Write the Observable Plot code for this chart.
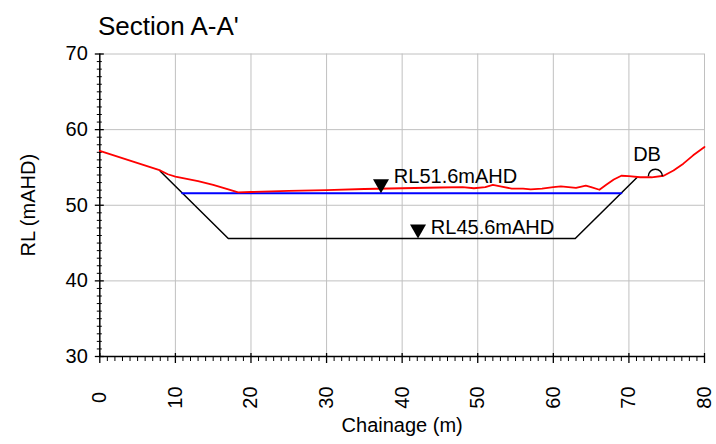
<!DOCTYPE html>
<html>
<head>
<meta charset="utf-8">
<script src="https://cdn.jsdelivr.net/npm/d3@7"></script>
<script src="https://cdn.jsdelivr.net/npm/@observablehq/plot@0.6"></script>
<style>
  body { margin: 0; background: #fff; overflow: hidden; font-family: "Liberation Sans", Arial, sans-serif; }
  #title { height: 29px; padding-top: 11px; padding-left: 98px; font-size: 26px; line-height: 30px; color: #000; }
  #chart svg { display: block; }
</style>
</head>
<body>
<div id="title">Section A-A'</div>
<div id="chart"></div>
<script>
// ---- data ----
const chainage = [0,4,8,9,10,12,13,15,17,18.3,20,25,30,35,40,45,48,49.5,51,52,53,54.5,56,57,58.5,60,61,62,63,64.3,65,66.1,67,68,69,70,71.5,73,74.6,75.9,77.2,78.5,80];
const groundRL = [57.2,55.9,54.6,54.1,53.8,53.4,53.2,52.7,52.1,51.7,51.75,51.9,52.0,52.15,52.25,52.35,52.4,52.25,52.4,52.7,52.5,52.2,52.2,52.1,52.2,52.4,52.5,52.4,52.3,52.6,52.4,52.05,52.7,53.4,53.9,53.85,53.7,53.7,53.9,54.6,55.5,56.6,57.7];

const designChainage = [8, 17, 62.9, 71.1];
const designRL = [54.5, 45.6, 45.6, 53.7];

const waterChainage = [10.9, 69.0];
const waterRL = [51.6, 51.6];

const markerChainage = [37.2, 42.1];
const markerRL = [51.6, 45.6];
const labelText = ["RL51.6mAHD", "RL45.6mAHD"];
const labelChainage = [38.9, 43.8];
const labelRL = [52.92, 46.22];

const dbChainage = [73.5];
const dbRL = [53.85];
const dbLabel = ["DB"];
const dbLabelChainage = [72.4];
const dbLabelRL = [55.83];

const xTicks = [0,10,20,30,40,50,60,70,80];
const yTicks = [30,40,50,60,70];
const xMinor = d3.range(0, 81, 1).filter(d => d % 10 !== 0);
const yMinor = d3.range(30, 71, 1).filter(d => d % 10 !== 0);

const xLabel = "Chainage (m)";
const yLabel = "RL (mAHD)";

// ---- tables ----
const ground = chainage.map((c, i) => ({c, rl: groundRL[i]}));
const design = designChainage.map((c, i) => ({c, rl: designRL[i]}));
const water = waterChainage.map((c, i) => ({c, rl: waterRL[i]}));
const markers = markerChainage.map((c, i) => ({c, rl: markerRL[i]}));
const labels = labelText.map((t, i) => ({t, c: labelChainage[i], rl: labelRL[i]}));
const db = dbChainage.map((c, i) => ({c, rl: dbRL[i]}));
const dbLabels = dbLabel.map((t, i) => ({t, c: dbLabelChainage[i], rl: dbLabelRL[i]}));

// custom symbols
const triDown = {draw(ctx) { ctx.moveTo(-8, -14); ctx.lineTo(8, -14); ctx.lineTo(0, 0); ctx.closePath(); }};
const semiCircle = {draw(ctx) { ctx.moveTo(7, 0); ctx.arc(0, 0, 7, 0, Math.PI, true); }};

const grid = "#c0c0c0";
const FS = 20;

const chart = Plot.plot({
  width: 716,
  height: 404,
  marginLeft: 99.3,
  marginRight: 12,
  marginTop: 13.5,
  marginBottom: 88,
  x: {domain: [0, 80], axis: null},
  y: {domain: [30, 70], axis: null},
  style: {fontFamily: "'Liberation Sans', Arial, sans-serif", fontSize: "20px", background: "white", color: "black", overflow: "visible"},
  marks: [
    Plot.ruleX(xTicks.filter(d => d > 0), {stroke: grid, strokeWidth: 1}),
    Plot.ruleY(yTicks.filter(d => d > 30), {stroke: grid, strokeWidth: 1}),
    Plot.ruleY(yMinor, {x1: 0, x2: 0, insetLeft: -2.5, insetRight: -2.5, stroke: "black", strokeWidth: 1}),
    Plot.ruleY(yTicks, {x1: 0, x2: 0, insetLeft: -4.5, insetRight: -4.5, stroke: "black", strokeWidth: 1.3}),
    Plot.ruleX(xMinor, {y1: 30, y2: 30, insetTop: 5, insetBottom: 0, stroke: "black", strokeWidth: 1}),
    Plot.ruleX(xTicks, {y1: 30, y2: 30, insetTop: 7, insetBottom: 3, stroke: "black", strokeWidth: 1.3}),
    Plot.ruleX([0], {stroke: "black", strokeWidth: 1.5}),
    Plot.ruleY([30], {stroke: "black", strokeWidth: 1.5}),
    Plot.line(design, {x: "c", y: "rl", stroke: "black", strokeWidth: 1.5}),
    Plot.line(water, {x: "c", y: "rl", stroke: "#0000ff", strokeWidth: 2}),
    Plot.line(ground, {x: "c", y: "rl", stroke: "#ff0000", strokeWidth: 1.8, curve: "linear"}),
    Plot.dot(markers, {x: "c", y: "rl", symbol: triDown, fill: "black", stroke: "none"}),
    Plot.dot(db, {x: "c", y: "rl", symbol: semiCircle, fill: "none", stroke: "black", strokeWidth: 1.5}),
    Plot.text(labels, {x: "c", y: "rl", text: "t", textAnchor: "start", lineAnchor: "bottom", fontSize: FS}),
    Plot.text(dbLabels, {x: "c", y: "rl", text: "t", textAnchor: "middle", lineAnchor: "bottom", fontSize: FS}),
    Plot.text(yTicks, {x: 0, y: d => d, text: d => String(d), textAnchor: "end", lineAnchor: "middle", dx: -12, fontSize: FS}),
    Plot.text(xTicks, {x: d => d, y: 30, text: d => String(d), rotate: -90, textAnchor: "middle", lineAnchor: "middle", dy: 41, fontSize: FS}),
    Plot.text([yLabel], {frameAnchor: "left", text: d => d, rotate: -90, textAnchor: "middle", lineAnchor: "middle", dx: -71, fontSize: FS}),
    Plot.text([xLabel], {frameAnchor: "bottom", text: d => d, textAnchor: "middle", lineAnchor: "bottom", dy: 75, fontSize: FS})
  ]
});
document.getElementById("chart").appendChild(chart);
</script>
</body>
</html>
